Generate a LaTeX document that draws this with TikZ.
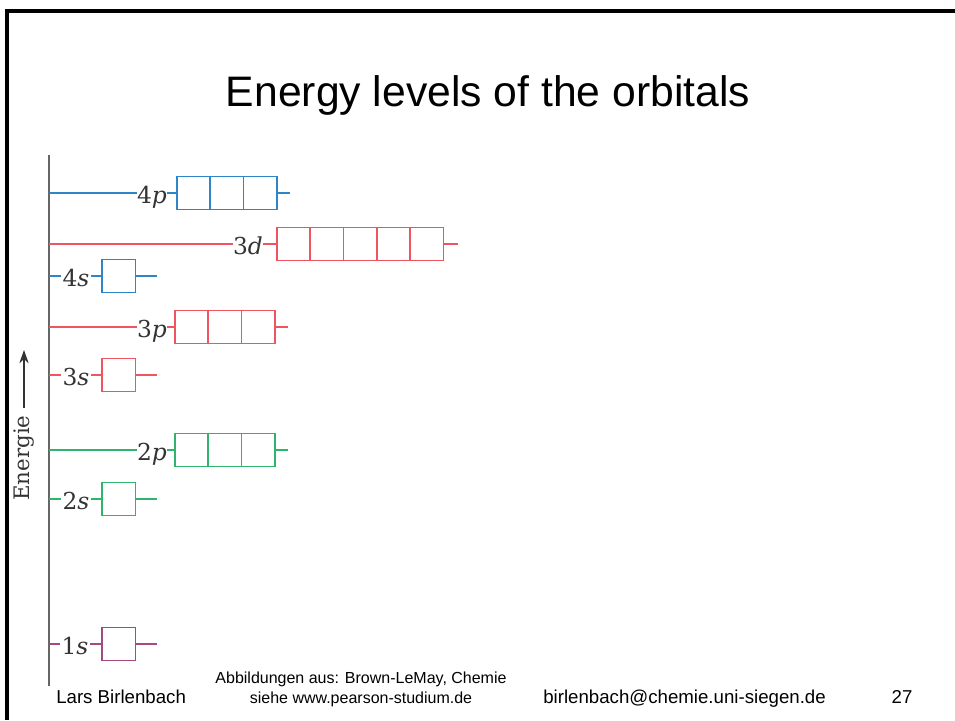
\documentclass[tikz,border=0pt]{standalone}
\usepackage{fontspec}
\newfontfamily\arialfont{Liberation Sans}
\newfontfamily\chartfont{DejaVu Serif}
\usetikzlibrary{arrows.meta,positioning}
\definecolor{OrbBlue}{HTML}{2E86C8}
\definecolor{OrbRed}{HTML}{EE5560}
\definecolor{OrbGreen}{HTML}{30B46C}
\definecolor{OrbPurple}{HTML}{A54A80}
\definecolor{AxisGray}{HTML}{666666}
\definecolor{LabelGray}{HTML}{333333}

\begin{document}
\begin{tikzpicture}[x=0.75pt,y=-0.75pt,
  cell/.style={rectangle,draw,line width=1.2pt,minimum width=25pt,minimum height=24.75pt,inner sep=0pt,outer sep=0pt},
  lvl/.style={inner sep=0pt,minimum width=22pt,anchor=base,text=LabelGray,font=\chartfont\fontsize{17.5}{21}\selectfont},
  level/.style={line width=1.1pt},
  axis/.style={draw=AxisGray,line width=1.2pt},
  footer/.style={font=\arialfont\fontsize{14}{17}\selectfont,anchor=base west,inner sep=0pt},
  note/.style={font=\arialfont\fontsize{12}{14}\selectfont,anchor=base,inner sep=0pt}
]
\useasboundingbox (0,0) rectangle (955,720);
% slide frame
\draw[line width=2.3pt] (7,720) -- (7,11) -- (955,11);
\node[font=\arialfont\fontsize{32}{38}\selectfont,anchor=base] (title) at (488,107) {Energy levels of the orbitals};

% energy axis
\coordinate (axtop) at (49,155);
\coordinate (axbot) at (49,686);
\draw[axis] (axtop) -- (axbot);
\node[rotate=90,text=LabelGray,font=\chartfont\fontsize{16}{19}\selectfont,inner sep=5pt] (energie) at (24,458) {Energie};
\coordinate (entip) at (24,350);
\draw[-{Stealth[length=10pt,width=7pt]},line width=0.9pt,LabelGray] (energie) -- (entip);

% orbital levels: shell/sub/y/label x/box x/cells/tail/colour
\foreach \dg/\sub/\yy/\lx/\bx/\nc/\tl/\col in {
  4/p/193/152/177/3/13/OrbBlue,
  3/d/244/248/277/5/14/OrbRed,
  4/s/276/76/102/1/22/OrbBlue,
  3/p/327/152/175/3/13/OrbRed,
  3/s/375/76/102/1/22/OrbRed,
  2/p/450/152/175/3/13/OrbGreen,
  2/s/499/76/102/1/22/OrbGreen,
  1/s/644/75/102/1/22/OrbPurple} {
  \coordinate (ax\dg\sub) at (49,\yy);
  \node[lvl] (lab\dg\sub) at (\lx,\yy+10.5) {\dg\textit{\sub}};
  \foreach \k in {1,...,\nc}
    \node[cell,draw=\col] (c\dg\sub\k) at ({\bx+(\k-0.5)*33.3},\yy) {};
  \coordinate (end\dg\sub) at ({\bx+\nc*33.3+\tl},\yy);
  \draw[level,\col] (ax\dg\sub) -- (ax\dg\sub -| lab\dg\sub.west)
    (ax\dg\sub -| lab\dg\sub.east) -- (c\dg\sub1) (c\dg\sub\nc) -- (end\dg\sub);
}

% footer
\node[footer] (author) at (56,703) {Lars Birlenbach};
\node[note] (src1) at (361,683) {Abbildungen aus: Brown-LeMay, Chemie};
\node[note] (src2) at (361,703) {siehe www.pearson-studium.de};
\node[footer] (mail) at (543,703) {birlenbach@chemie.uni-siegen.de};
\node[footer,anchor=base] (page) at (902,703) {27};
\end{tikzpicture}
\end{document}
